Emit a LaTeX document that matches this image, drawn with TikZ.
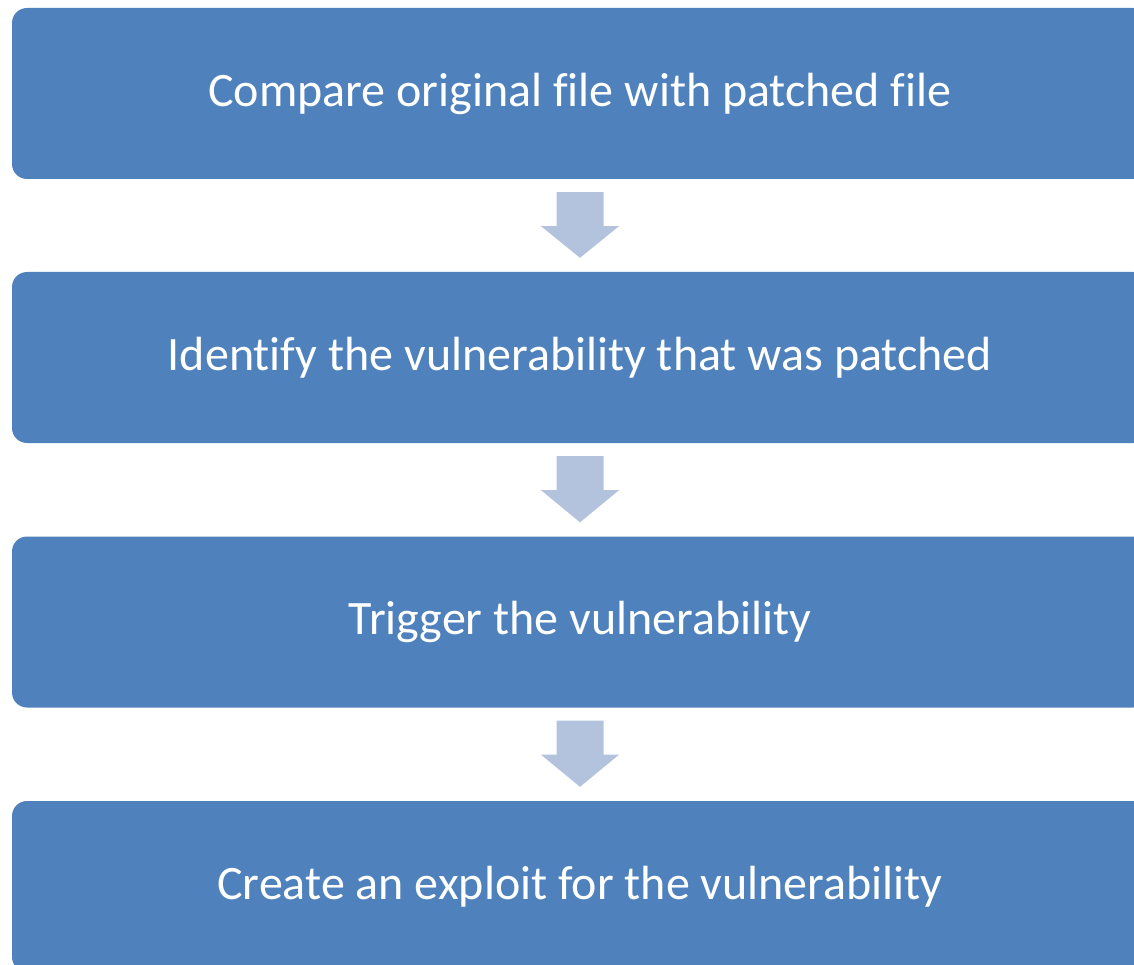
\documentclass[tikz,border=0pt]{standalone}
\usepackage{fontspec}
\setmainfont[Ligatures={NoCommon,NoContextual}]{Carlito}
\usetikzlibrary{calc}
\definecolor{boxblue}{HTML}{4F81BD}
\definecolor{arrowblue}{HTML}{B3C3DD}
\tikzset{
  stepbox/.style={fill=boxblue, draw=none, rounded corners=15pt, minimum width=1136pt, minimum height=171pt, inner sep=0pt, text=white, font=\fontsize{48}{56}\selectfont},
  blockarrow/.style={fill=arrowblue, draw=none}
}
\newcommand{\blockarr}[2]{%
  \fill[blockarrow] ($(#1.south)+(-23.5,13)$) -- ++(47,0) -- ++(0,34) -- ++(15.5,0)
    -- ($(#2.north)+(0,-14)$) -- ($(#1.south)+(-39,47)$) -- ++(15.5,0) -- cycle;}
\begin{document}
\begin{tikzpicture}[x=1pt,y=-1pt]
\useasboundingbox (0,0) rectangle (1134,965);
\clip (0,0) rectangle (1134,965);
\node[stepbox] (b1) at (580,93.5) {\raisebox{-2pt}{Compare original file with patched file}};
\node[stepbox] (b2) at (580,357.5) {\raisebox{-2pt}{Identify the vulnerability that was patched}};
\node[stepbox] (b3) at (580,622) {\raisebox{-2pt}{Trigger the vulnerability}};
\node[stepbox] (b4) at (580,886.5) {\raisebox{-2pt}{Create an exploit for the vulnerability}};
\blockarr{b1}{b2}
\blockarr{b2}{b3}
\blockarr{b3}{b4}
\end{tikzpicture}
\end{document}
